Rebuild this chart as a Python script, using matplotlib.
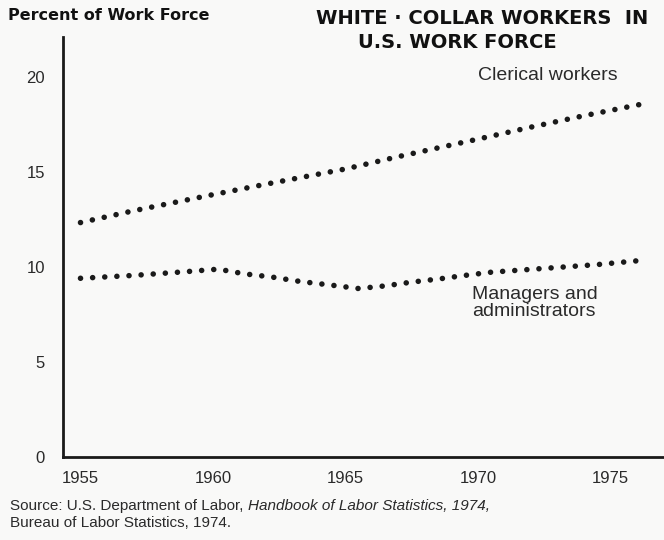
import matplotlib
matplotlib.use("Agg")
import matplotlib.pyplot as plt

W, H = 664, 540

clerical_years = [1955, 1957, 1960, 1962, 1965, 1967, 1970, 1972, 1974, 1976.4]
clerical_pct = [12.33, 12.95, 13.8, 14.35, 15.15, 15.8, 16.72, 17.35, 17.95, 18.62]

manager_years = [1955, 1957, 1959, 1960.2, 1961.2, 1962.2, 1963.3, 1964.4, 1965.5, 1966.5,
                 1967.5, 1968.5, 1969.5, 1970.5, 1972.5, 1974.5, 1976.4]
manager_pct = [9.4, 9.55, 9.75, 9.88, 9.63, 9.47, 9.23, 9.05, 8.86, 9.0,
               9.2, 9.36, 9.55, 9.72, 9.92, 10.12, 10.37]

x_ticks = [1955, 1960, 1965, 1970, 1975]
y_ticks = [0, 5, 10, 15, 20]

INK = "#1a1a1a"
TXT = "#2a2a2a"
BG = "#f9f9f8"

plt.rcParams['font.family'] = ['Liberation Sans', 'DejaVu Sans']

fig = plt.figure(figsize=(W / 100, H / 100), dpi=100, facecolor=BG)
ax = fig.add_axes([63 / W, 1 - 457 / H, (W - 63) / W, (457 - 37) / H])
ax.set_facecolor(BG)


def px(x, y):
    return x / W, 1 - y / H


# dotted series: tiny dashes with round caps give the dot look
dot_lw = 4.0
dot_style = (0, (0.01, 8.7 / dot_lw))
for xs, ys in [(clerical_years, clerical_pct), (manager_years, manager_pct)]:
    ax.plot(xs, ys, color=INK, lw=dot_lw, linestyle=dot_style,
            dash_capstyle='round', solid_capstyle='round')

ax.set_xlim(1954.34, 1977.02)
ax.set_ylim(0, 22.09)
ax.set_xticks(x_ticks)
ax.set_yticks(y_ticks)
ax.tick_params(length=0, labelsize=12, labelcolor=TXT)
ax.tick_params(axis='y', pad=13)
ax.tick_params(axis='x', pad=10)

for side in ['top', 'right']:
    ax.spines[side].set_visible(False)
for side in ['left', 'bottom']:
    ax.spines[side].set_linewidth(2.0)
    ax.spines[side].set_color(INK)

# series labels
fig.text(*px(478, 75), "Clerical workers", fontsize=14, color=TXT, va='center')
fig.text(*px(472, 303), "Managers and\nadministrators", fontsize=14, color=TXT,
         va='center', linespacing=1.0)

# handwritten-looking headings
hand = dict(family='DejaVu Sans', fontweight='bold', color="#111111")
fig.text(*px(8, 16), "Percent of Work Force", fontsize=11.5, va='center', **hand)
fig.text(*px(316, 19), "WHITE · COLLAR WORKERS  IN", fontsize=14, va='center', **hand)
fig.text(*px(358, 43), "U.S. WORK FORCE", fontsize=14, va='center', **hand)

# source note (roman + italic pieces on the first line)
src_y = 506
src1 = fig.text(*px(10, src_y), "Source: U.S. Department of Labor, ", fontsize=11,
                color=TXT, va='center')
fig.canvas.draw()
bb = src1.get_window_extent()
fig.text(bb.x1 / W, 1 - src_y / H, "Handbook of Labor Statistics, 1974,", fontsize=11,
         color=TXT, va='center', style='italic')
fig.text(*px(10, 523), "Bureau of Labor Statistics, 1974.", fontsize=11, color=TXT,
         va='center')

fig.savefig("out.png", dpi=100, facecolor=BG)
